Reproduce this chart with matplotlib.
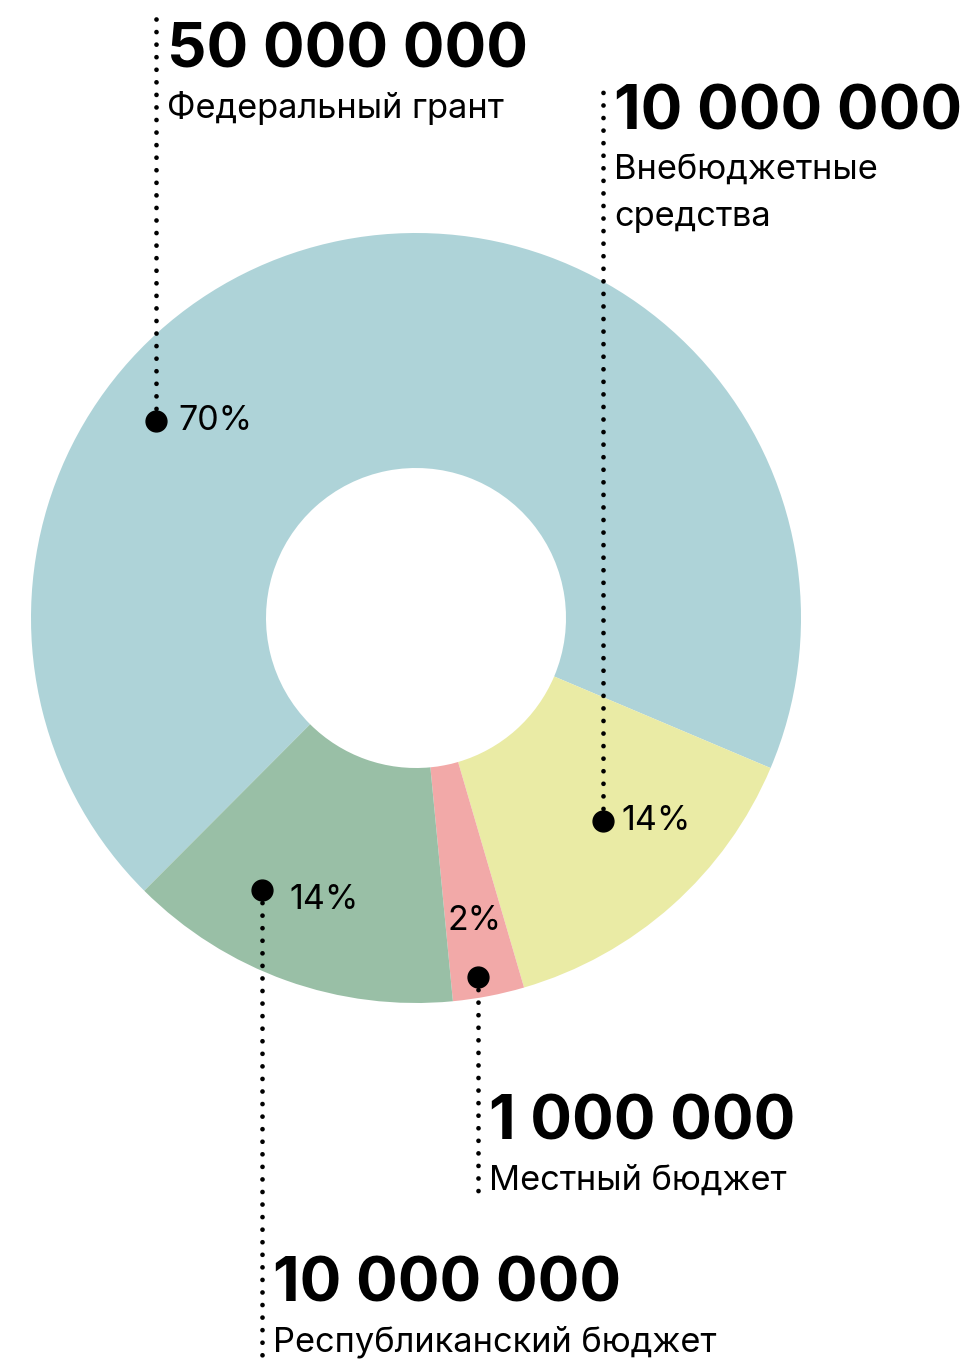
import numpy as np
import matplotlib
matplotlib.use("Agg")
import matplotlib.pyplot as plt

# data
categories = [["Федеральный грант"], ["Внебюджетные", "средства"],
              ["Местный бюджет"], ["Республиканский бюджет"]]
amounts = ["50 000 000", "10 000 000", "1 000 000", "10 000 000"]
pct_labels = ["70%", "14%", "2%", "14%"]
shares = [68.9, 14.1, 3.0, 14.0]  # slice sizes as drawn

colors = ["#AED3D8", "#EAEBA5", "#F2A9A8", "#99BFA6"]

W, H = 973, 1360
plt.rcParams["font.family"] = ["Inter", "DejaVu Sans"]

fig = plt.figure(figsize=(W / 100, H / 100), dpi=100)
ax = fig.add_axes([0, 0, 1, 1])
ax.axis("off")

cx, cy = 416, H - 618
r_out, r_in = 385, 150

ax.pie(shares, colors=colors, startangle=225.1, counterclock=False,
       center=(cx, cy), radius=r_out, wedgeprops=dict(width=r_out - r_in, linewidth=0))
ax.set_xlim(0, W)
ax.set_ylim(0, H)
ax.set_aspect("equal")

# label anchors: (angle deg, radius) on the ring, line end y (image px), text baselines
anchors = [(142.8, 326), (-47.4, 276), (-80.2, 364), (-119.5, 313)]
line_end = [15, 80, 1192, 1360]
num_base = [68, 130, 1140, 1301]
pct_offset = [(22, 0), (19, 0), (-30, 56), (28, -10)]


def iy(y):
    return H - y


for i in range(4):
    a, r = anchors[i]
    x = cx + r * np.cos(np.radians(a))
    y = cy + r * np.sin(np.radians(a))
    ax.plot([x, x], [y, iy(line_end[i])], color="black", lw=3.4,
            linestyle=(0, (0.01, 2.65)), dash_capstyle="round", zorder=3)
    ax.plot(x, y, "o", color="black", markersize=15, zorder=4)
    dx, dy = pct_offset[i]
    ax.text(x + dx, y + dy, pct_labels[i], fontsize=24.5, va="center", ha="left", zorder=5)
    tx = x + 11
    ax.text(tx, iy(num_base[i]), amounts[i], fontsize=44.5, fontweight="bold",
            va="baseline", ha="left")
    for j, line in enumerate(categories[i]):
        ax.text(tx, iy(num_base[i] + 50 + 46 * j), line, fontsize=24.8,
                va="baseline", ha="left")

fig.savefig("out.png", dpi=100)
